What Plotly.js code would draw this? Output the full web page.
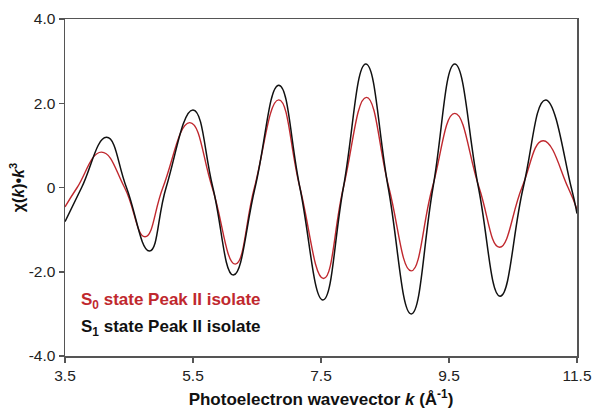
<!DOCTYPE html>
<html>
<head>
<meta charset="utf-8">
<script src="https://cdn.plot.ly/plotly-3.0.1.min.js"></script>
<style>html,body{margin:0;padding:0;background:#fff;}#chart{width:593px;height:416px;}</style>
</head>
<body>
<div id="chart"></div>
<script>
// S1 state (black) — k and chi(k)*k^3
var kS1 = [3.5, 3.76, 4.15, 4.46, 4.82, 5.08, 5.50, 5.81, 6.13, 6.47, 6.84, 7.17, 7.53, 7.85, 8.20, 8.55, 8.91, 9.25, 9.59, 9.96, 10.30, 10.66, 11.01, 11.41, 11.5];
var chiS1 = [-0.81, 0, 1.19, 0, -1.51, 0, 1.84, 0, -2.08, 0, 2.43, 0, -2.67, 0, 2.93, 0, -3.00, 0, 2.93, 0, -2.58, 0, 2.08, 0, -0.62];
// S0 state (red)
var kS0 = [3.5, 3.69, 4.07, 4.43, 4.75, 5.03, 5.45, 5.80, 6.16, 6.46, 6.84, 7.17, 7.54, 7.85, 8.21, 8.56, 8.91, 9.24, 9.59, 9.97, 10.29, 10.64, 10.97, 11.36, 11.5];
var chiS0 = [-0.46, 0, 0.84, 0, -1.17, 0, 1.54, 0, -1.82, 0, 2.08, 0, -2.16, 0, 2.14, 0, -1.98, 0, 1.76, 0, -1.42, 0, 1.11, 0, -0.52];

var xTicks = [3.5, 5.5, 7.5, 9.5, 11.5];
var xTickText = ['3.5', '5.5', '7.5', '9.5', '11.5'];
var yTicks = [-4, -2, 0, 2, 4];
var yTickText = ['-4.0', '-2.0', '0', '2.0', '4.0'];
var legendLabels = ['S<sub>0</sub> state Peak II isolate', 'S<sub>1</sub> state Peak II isolate'];

var red = '#c0282e', black = '#111111';
var FF = 'Liberation Sans, Arial, sans-serif';
var traces = [
  {x: kS0, y: chiS0, mode: 'lines', line: {color: red, width: 1.4, shape: 'spline', smoothing: 1.3}, name: 'S0'},
  {x: kS1, y: chiS1, mode: 'lines', line: {color: black, width: 1.5, shape: 'spline', smoothing: 1.3}, name: 'S1'}
];
var layout = {
  width: 593, height: 416,
  margin: {l: 65, r: 16, t: 19, b: 60},
  paper_bgcolor: '#fff', plot_bgcolor: '#fff',
  showlegend: false,
  font: {family: FF, size: 15, color: '#111'},
  xaxis: {
    range: [3.5, 11.5], tickvals: xTicks, ticktext: xTickText,
    showgrid: false, zeroline: false, showline: true, mirror: true,
    linecolor: '#555', linewidth: 1.5, ticks: 'outside', ticklen: 5, tickcolor: '#555', tickwidth: 1.5,
    tickfont: {family: FF, size: 15.5, color: '#222'},
    title: {text: '<b>Photoelectron wavevector <i>k</i> (Å<sup>-1</sup>)</b>', font: {family: FF, size: 17, color: '#111'}, standoff: 10}
  },
  yaxis: {
    range: [-4, 4], tickvals: yTicks, ticktext: yTickText,
    showgrid: false, zeroline: false, showline: true, mirror: true,
    linecolor: '#555', linewidth: 1.5, ticks: 'outside', ticklen: 5, tickcolor: '#555', tickwidth: 1.5,
    tickfont: {family: FF, size: 15.5, color: '#222'},
    title: {text: '<b>χ(<i>k</i>)•<i>k</i><sup>3</sup></b>', font: {family: FF, size: 16, color: '#111'}, standoff: 0}
  },
  annotations: [
    {xref: 'paper', yref: 'paper', x: 0.027, y: 0.163, xanchor: 'left', yanchor: 'middle', showarrow: false,
     text: '<b>' + legendLabels[0] + '</b>', font: {family: FF, size: 17, color: red}},
    {xref: 'paper', yref: 'paper', x: 0.027, y: 0.083, xanchor: 'left', yanchor: 'middle', showarrow: false,
     text: '<b>' + legendLabels[1] + '</b>', font: {family: FF, size: 17, color: '#111'}}
  ]
};
Plotly.newPlot('chart', traces, layout, {displayModeBar: false, staticPlot: true});
</script>
</body>
</html>
